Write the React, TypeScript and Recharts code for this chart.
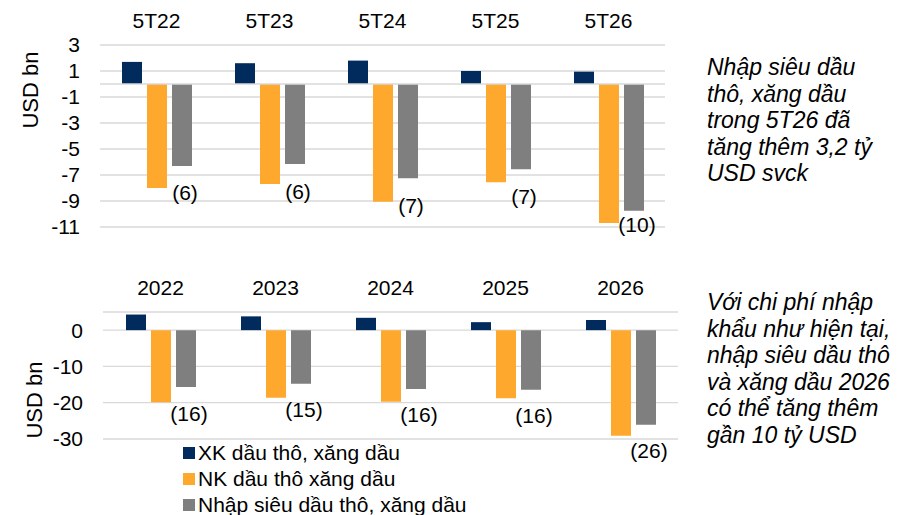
import React from 'react';
import { BarChart, Bar, XAxis, YAxis, CartesianGrid, ReferenceLine, LabelList } from 'recharts';

const FONT = '"Liberation Sans", Arial, sans-serif';

// 5 tháng đầu năm
const monthCats = ['5T22', '5T23', '5T24', '5T25', '5T26'];
const monthExport = [1.7, 1.6, 1.8, 1.0, 0.95];
const monthImport = [-8.0, -7.7, -9.05, -7.55, -10.7];
const monthNet = [-6.3, -6.15, -7.25, -6.55, -9.75];
const monthTicks = [3, 1, -1, -3, -5, -7, -9, -11];

// cả năm
const yearCats = ['2022', '2023', '2024', '2025', '2026'];
const yearExport = [4.3, 3.8, 3.4, 2.2, 2.8];
const yearImport = [-19.9, -18.6, -19.7, -18.8, -29.1];
const yearNet = [-15.7, -14.8, -16.2, -16.4, -26.1];
const yearTicks = [0, -10, -20, -30];

const seriesKeys = ['xk', 'nk', 'net'];
const seriesNames = ['XK dầu thô, xăng dầu', 'NK dầu thô xăng dầu', 'Nhập siêu dầu thô, xăng dầu'];
const seriesColors = ['#002B5C', '#FFA82E', '#7F7F7F'];

const noteTop = ['Nhập siêu dầu', 'thô, xăng dầu', 'trong 5T26 đã', 'tăng thêm 3,2 tỷ', 'USD svck'];
const noteBottom = [
  'Với chi phí nhập',
  'khẩu như hiện tại,',
  'nhập siêu dầu thô',
  'và xăng dầu 2026',
  'có thể tăng thêm',
  'gần 10 tỷ USD',
];

const buildRows = (cats: string[], xk: number[], nk: number[], net: number[]) =>
  cats.map((cat, i) => ({ cat, xk: xk[i], nk: nk[i], net: net[i] }));

const monthData = buildRows(monthCats, monthExport, monthImport, monthNet);
const yearData = buildRows(yearCats, yearExport, yearImport, yearNet);

const TXT = 21;
const tickStyle = { fill: '#000', fontSize: TXT, fontFamily: FONT };

// nhãn (x) đặt dưới cột nhập siêu
const makeNetLabel = (offset: number, maxY: number) => (props: any) => {
  const { x, y, width, height, value } = props;
  const bottom = Math.max(y, y + height);
  const cy = Math.min(bottom + offset, maxY);
  return (
    <text
      x={x + width / 2 + 3}
      y={cy}
      dy="0.36em"
      textAnchor="middle"
      fill="#000"
      fontSize={TXT}
      fontFamily={FONT}
    >
      {`(${Math.round(-value)})`}
    </text>
  );
};

interface PanelProps {
  data: any[];
  ticks: number[];
  domain: [number, number];
  width: number;
  height: number;
  bottomPad: number;
  top: number;
  axisWidth: number;
  axisHeight: number;
  labelOffset: number;
  labelMaxY: number;
  zeroLine?: boolean;
}

const Panel: React.FC<PanelProps> = ({
  data, ticks, domain, width, height, bottomPad, top, axisWidth, axisHeight, labelOffset, labelMaxY, zeroLine,
}) => (
  <div style={{ position: 'absolute', left: 0, top }}>
    <BarChart
      width={width}
      height={height}
      data={data}
      margin={{ top: 0, right: 15, bottom: bottomPad, left: 0 }}
      barSize={20}
      barGap={5}
    >
      <CartesianGrid vertical={false} stroke="#d9d9d9" strokeWidth={1.3} />
      <XAxis
        dataKey="cat"
        orientation="top"
        height={axisHeight}
        axisLine={false}
        tickLine={false}
        tickSize={0}
        tickMargin={17}
        tick={tickStyle}
        interval={0}
      />
      <YAxis
        type="number"
        domain={domain}
        ticks={ticks}
        interval={0}
        width={axisWidth}
        axisLine={false}
        tickLine={false}
        tickSize={0}
        tickMargin={20}
        tick={tickStyle}
      />
      {zeroLine && <ReferenceLine y={0} stroke="#d9d9d9" strokeWidth={1.3} />}
      {seriesKeys.map((k, i) => (
        <Bar key={k} dataKey={k} fill={seriesColors[i]} isAnimationActive={false}>
          {k === 'net' && (
            <LabelList dataKey="net" content={makeNetLabel(labelOffset, labelMaxY)} />
          )}
        </Bar>
      ))}
    </BarChart>
  </div>
);

const AxisTitle: React.FC<{ cx: number; cy: number }> = ({ cx, cy }) => (
  <div
    style={{
      position: 'absolute',
      left: cx,
      top: cy,
      transform: 'translate(-50%, -50%) rotate(-90deg)',
      whiteSpace: 'nowrap',
      fontSize: 22,
      lineHeight: '24px',
      fontFamily: FONT,
      color: '#000',
    }}
  >
    USD bn
  </div>
);

const Note: React.FC<{ lines: string[]; top: number }> = ({ lines, top }) => (
  <div
    style={{
      position: 'absolute',
      left: 707,
      top,
      fontSize: 23,
      lineHeight: '26.5px',
      fontStyle: 'italic',
      fontFamily: FONT,
      color: '#000',
      whiteSpace: 'nowrap',
    }}
  >
    {lines.map((l) => (
      <div key={l}>{l}</div>
    ))}
  </div>
);

export default function App() {
  return (
    <div
      style={{
        position: 'absolute',
        left: 0,
        top: 0,
        width: 899,
        height: 515,
        background: '#fff',
        overflow: 'hidden',
        fontFamily: FONT,
      }}
    >
      <Panel
        data={monthData}
        ticks={monthTicks}
        domain={[-11, 3]}
        width={680}
        height={250}
        bottomPad={23}
        top={0}
        axisWidth={100}
        axisHeight={45}
        labelOffset={27}
        labelMaxY={224}
        zeroLine
      />
      <Panel
        data={yearData}
        ticks={yearTicks}
        domain={[-30, 5]}
        width={693}
        height={219}
        bottomPad={40}
        top={260}
        axisWidth={103}
        axisHeight={52}
        labelOffset={26}
        labelMaxY={300}
      />
      <AxisTitle cx={31} cy={90} />
      <AxisTitle cx={35} cy={400} />
      <Note lines={noteTop} top={54} />
      <Note lines={noteBottom} top={289} />
      <div style={{ position: 'absolute', left: 183, top: 440, fontSize: TXT, lineHeight: '26px', color: '#000' }}>
        {seriesNames.map((n, i) => (
          <div key={n} style={{ display: 'flex', alignItems: 'center', whiteSpace: 'nowrap' }}>
            <span
              style={{ width: 12, height: 12, background: seriesColors[i], marginRight: 3, display: 'inline-block' }}
            />
            {n}
          </div>
        ))}
      </div>
    </div>
  );
}
